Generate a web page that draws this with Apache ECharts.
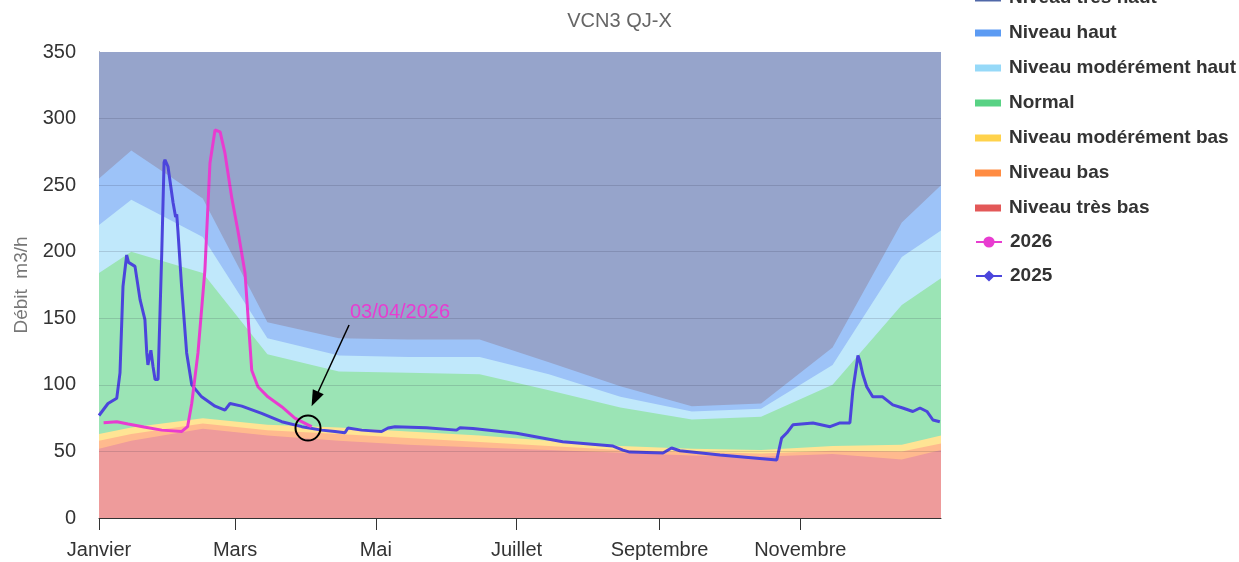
<!DOCTYPE html>
<html>
<head>
<meta charset="utf-8">
<script src="https://cdn.jsdelivr.net/npm/echarts@6/dist/echarts.min.js"></script>
<style>
  html, body { margin: 0; padding: 0; background: #fff; }
  #chart { width: 1239px; height: 562px; }
</style>
</head>
<body>
<div id="chart"></div>
<script>
// jours de l'année (0 = 1er janvier)
var monthTickDays = [0, 59, 120, 181, 243, 304];
var monthLabels = ['Janvier', 'Mars', 'Mai', 'Juillet', 'Septembre', 'Novembre'];
var yTicks = [0, 50, 100, 150, 200, 250, 300, 350];

// limites hautes des niveaux (m3/h), aux jours bandDays
var bandDays    = [0, 14, 45, 73, 104, 134, 165, 195, 226, 257, 287, 318, 348, 365];
var tresBasTop  = [52, 58, 67, 62, 58, 55, 53, 51, 49, 47, 46, 48, 44, 51];
var basTop      = [58, 63, 71, 66, 63, 60, 57, 54, 51, 49.5, 48.5, 50.5, 50, 56];
var modBasTop   = [63, 68, 75, 70, 68, 65, 62, 58, 54, 52, 51, 54, 55, 62];
var normalTop   = [184, 200, 184, 123, 110, 109, 108, 96, 83, 74, 76, 100, 160, 180];
var modHautTop  = [220, 239, 211, 135, 122, 121, 121, 108, 91, 80, 82, 115, 196, 216];
var hautTop     = [255, 276, 240, 147, 135, 134, 134, 117, 99, 84, 86, 128, 222, 250];
var tresHautTop = [350, 350, 350, 350, 350, 350, 350, 350, 350, 350, 350, 350, 350, 350];

// 2025
var days2025 = [0, 3.9, 7.7, 9.1, 10.4, 12.0, 12.8, 13.4, 15.6, 17.8, 19.9, 20.7, 21.2, 22.5, 23.4, 24.3, 25.6,
  27.2, 28.2, 28.6, 29.9, 32.1, 33.2, 33.7, 34.2, 35.8, 38.0, 40.2, 44.5, 50.3, 54.6, 56.8, 61.9, 70.5,
  79.2, 87.9, 96.5, 102.3, 106.6, 107.9, 113.9, 122.5, 125.3, 128.3, 142, 155, 156.5, 162.1, 181, 201,
  222.8, 227.1, 230.1, 244.5, 248.2, 251.8, 269.2, 293.8, 295.9, 298.2, 300.8, 309.5, 316.9, 321.2, 325.5,
  326.8, 329, 329.8, 331.1, 332.8, 335.4, 339.7, 344.1, 348.4, 352.8, 355.9, 358.9, 361.5, 364.5];
var values2025 = [77, 86, 90, 109, 174, 197.5, 192, 191, 189, 164, 149, 124, 115, 126, 114, 104, 104,
  199, 267, 269, 264, 237, 226, 228, 216, 174, 124, 100, 91, 84, 81, 86, 84, 78.6,
  72.3, 68.6, 66, 65, 64, 67.6, 66, 65, 67.6, 68.6, 67.8, 66, 67.8, 67.3, 63.6, 57.3,
  54, 51, 49.5, 48.8, 52.6, 50.5, 47.3, 43.6, 60, 64, 70, 71.4, 68.6, 71.4, 71.4,
  96, 122, 118, 108, 98.6, 91, 91, 85, 82.6, 80, 82.6, 80, 73.6, 72.3];

// 2026
var days2026 = [2.0, 7.7, 12.6, 19.5, 27.2, 35.9, 38.4, 40.2, 42.9, 45.9, 48.1, 50.3, 52.5, 54.6, 57.5,
  60.2, 63.3, 66.2, 68.9, 73.2, 79.2, 84.9, 90.6, 92.2];
var values2026 = [71.6, 72.3, 70.6, 68.3, 66, 65, 68.6, 86, 124, 186, 266.6, 291.4, 290, 274, 241,
  216, 184, 111, 98.6, 91, 83.6, 75, 70, 68.6];

// annotation du dernier point
var lastLabel = '03/04/2026';
var lastPoint = [90.6, 67.6];
var arrowFrom = [108.4, 145];
var arrowTo = [93.6, 89.4];
var labelAt = [108.8, 154];

var page = echarts.init(document.getElementById('chart'));

function pairs(xs, ys) {
  return xs.map(function (x, i) { return [x, ys[i]]; });
}

// les niveaux sont dessinés du plus haut au plus bas, chacun depuis 0
function band(name, top, color, fill) {
  return {
    name: name,
    type: 'line',
    symbol: 'none',
    color: color,
    lineStyle: { width: 0 },
    areaStyle: { color: fill, opacity: 1 },
    silent: true,
    data: pairs(bandDays, top)
  };
}

var levels = [
  { name: 'Niveau très haut', top: tresHautTop, color: '#5068A8', fill: '#96A4CB' },
  { name: 'Niveau haut', top: hautTop, color: '#5C9BF3', fill: '#9DC3F8' },
  { name: 'Niveau modérément haut', top: modHautTop, color: '#96D9F8', fill: '#C0E8FB' },
  { name: 'Normal', top: normalTop, color: '#58D284', fill: '#9BE4B5' },
  { name: 'Niveau modérément bas', top: modBasTop, color: '#FFD24C', fill: '#FFE494' },
  { name: 'Niveau bas', top: basTop, color: '#FF8C42', fill: '#FFBA8E' },
  { name: 'Niveau très bas', top: tresBasTop, color: '#E35858', fill: '#EE9B9B' }
];

var series = levels.map(function (l) { return band(l.name, l.top, l.color, l.fill); });

// lignes de grille par-dessus les zones
series[series.length - 1].markLine = {
  silent: true,
  symbol: ['none', 'none'],
  label: { show: false },
  lineStyle: { color: 'rgba(40,40,60,0.16)', width: 1, type: 'solid' },
  data: yTicks.slice(1, -1).map(function (v) { return { yAxis: v }; })
};

series.push({
  name: '2025',
  type: 'line',
  symbol: 'diamond',
  showSymbol: false,
  color: '#4B45DC',
  lineStyle: { width: 3, color: '#4B45DC' },
  data: pairs(days2025, values2025)
});

series.push({
  name: '2026',
  type: 'line',
  symbol: 'circle',
  showSymbol: false,
  color: '#E83CD0',
  lineStyle: { width: 3, color: '#E83CD0' },
  data: pairs(days2026, values2026),
  markLine: {
    silent: true,
    symbol: ['none', 'triangle'],
    symbolSize: [12, 16],
    label: { show: false },
    lineStyle: { color: '#000', width: 1.5, type: 'solid' },
    data: [[{ coord: arrowFrom }, { coord: arrowTo }]]
  },
  markPoint: {
    silent: true,
    data: [
      {
        coord: lastPoint,
        symbol: 'circle',
        symbolSize: 25,
        itemStyle: { color: 'rgba(0,0,0,0)', borderColor: '#000', borderWidth: 2 },
        label: { show: false }
      },
      {
        coord: labelAt,
        symbol: 'circle',
        symbolSize: 0,
        label: { show: true, position: 'right', distance: 0, formatter: lastLabel, color: '#E83CD0', fontSize: 20 }
      }
    ]
  }
});

var font = 'Liberation Sans, Arial, sans-serif';
var legendText = { fontSize: 19, fontWeight: 'bold', color: '#333', lineHeight: 20, padding: [0, 0, 0, 3] };

var option = {
  animation: false,
  textStyle: { fontFamily: font },
  title: {
    text: 'VCN3 QJ-X',
    left: 'center',
    top: 6,
    textStyle: { fontSize: 20, fontWeight: 'normal', color: '#666', fontFamily: font }
  },
  legend: [
    {
      orient: 'vertical',
      left: 970,
      top: -17,
      itemWidth: 26,
      itemHeight: 7,
      itemGap: 15,
      selectedMode: false,
      textStyle: legendText,
      data: levels.map(function (l) { return { name: l.name, icon: 'rect', itemStyle: { color: l.color } }; })
    },
    {
      orient: 'vertical',
      left: 970,
      top: 227,
      itemWidth: 26,
      itemHeight: 14,
      itemGap: 14,
      selectedMode: false,
      textStyle: legendText,
      data: ['2026', '2025']
    }
  ],
  grid: { left: 99, right: 298, top: 52, bottom: 44 },
  xAxis: {
    type: 'value',
    min: 0,
    max: 365,
    axisLine: { show: true, lineStyle: { color: '#333' } },
    axisTick: { show: true, length: 12, customValues: monthTickDays, lineStyle: { color: '#333' } },
    axisLabel: {
      customValues: monthTickDays,
      margin: 22,
      fontSize: 20,
      color: '#333',
      formatter: function (v) { return monthLabels[monthTickDays.indexOf(v)]; }
    },
    splitLine: { show: false }
  },
  yAxis: {
    type: 'value',
    min: yTicks[0],
    max: yTicks[yTicks.length - 1],
    interval: 50,
    name: 'Débit  m3/h',
    nameLocation: 'middle',
    nameGap: 68,
    nameTextStyle: { fontSize: 19, color: '#777' },
    axisLine: { show: true, lineStyle: { color: '#555' } },
    axisTick: { show: false },
    axisLabel: { fontSize: 20, color: '#333', margin: 23 },
    splitLine: { show: false }
  },
  series: series
};

page.setOption(option);
</script>
</body>
</html>
